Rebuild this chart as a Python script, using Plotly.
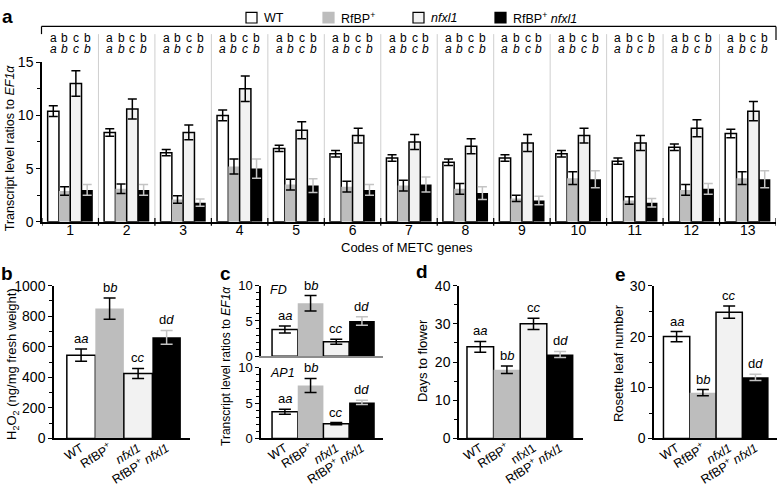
import plotly.graph_objects as go

W, H = 778, 491
FONT = "Liberation Sans, Arial, sans-serif"

# ---------------- data ----------------
genotypes = ["WT", "RfBP+", "nfxl1", "RfBP+ nfxl1"]
genotype_ticks = ["WT", "RfBP<sup>+</sup>", "<i>nfxl1</i>", "RfBP<sup>+</sup> <i>nfxl1</i>"]
genotype_ticks_d = ["WT", "RfBP<sup>+</sup>", "nfxl1", "RfBP<sup>+</sup> <i>nfxl1</i>"]
legend_labels = ["WT", "RfBP<sup>+</sup>", "<i>nfxl1</i>", "RfBP<sup>+</sup> <i>nfxl1</i>"]

# panel a: 13 METC genes
genes = [str(i) for i in range(1, 14)]
a_wt = [10.4, 8.4, 6.5, 10.0, 6.9, 6.4, 6.0, 5.6, 6.0, 6.4, 5.7, 7.0, 8.3]
a_wt_err = [0.5, 0.35, 0.3, 0.5, 0.3, 0.3, 0.3, 0.3, 0.3, 0.3, 0.3, 0.3, 0.4]
a_rfbp = [2.9, 3.1, 2.1, 5.2, 3.5, 3.3, 3.4, 3.1, 2.2, 4.1, 2.0, 3.0, 4.1]
a_rfbp_err = [0.4, 0.45, 0.35, 0.7, 0.5, 0.5, 0.5, 0.5, 0.3, 0.6, 0.35, 0.5, 0.6]
a_nfxl1 = [13.0, 10.6, 8.4, 12.5, 8.6, 8.1, 7.5, 7.1, 7.4, 8.1, 7.4, 8.8, 10.4]
a_nfxl1_err = [1.2, 0.95, 0.7, 1.2, 0.8, 0.7, 0.7, 0.7, 0.8, 0.7, 0.7, 0.8, 0.9]
a_double = [3.0, 3.0, 1.8, 5.0, 3.4, 3.0, 3.5, 2.7, 2.0, 4.0, 1.8, 3.1, 4.0]
a_double_err = [0.5, 0.5, 0.35, 0.9, 0.65, 0.5, 0.7, 0.6, 0.4, 0.8, 0.4, 0.5, 0.8]
a_letters = ["a", "b", "c", "b"]

# panel b: H2O2
b_vals = [545, 850, 425, 662]
b_err = [40, 70, 33, 45]
# panel c: FD and AP1
c_fd_vals = [3.8, 7.5, 2.05, 5.0]
c_fd_err = [0.5, 1.1, 0.35, 0.6]
c_ap1_vals = [3.8, 7.5, 2.1, 5.1]
c_ap1_err = [0.35, 1.0, 0.15, 0.3]
# panel d: days to flower
d_vals = [24, 18, 30, 22]
d_err = [1.4, 1.0, 1.5, 0.8]
# panel e: rosette leaf number
e_vals = [20, 9, 24.8, 12]
e_err = [1.0, 0.6, 1.2, 0.6]
sig_letters = ["a<i>a</i>", "b<i>b</i>", "c<i>c</i>", "d<i>d</i>"]

# ---------------- style ----------------
fill_colors = ["#ffffff", "#bdbdbd", "#f2f2f2", "#000000"]
line_colors = ["#000000", "#bdbdbd", "#000000", "#000000"]
line_widths = [1.5, 0, 1.5, 0]
err_colors = ["#000000", "#000000", "#000000", "#c4c4c4"]


def xp(px):
    return px / W


def yp(py):
    return 1 - py / H


fig = go.Figure()

# ---------------- panel a ----------------
a_series = [(a_wt, a_wt_err), (a_rfbp, a_rfbp_err), (a_nfxl1, a_nfxl1_err), (a_double, a_double_err)]
for i, (vals, errs) in enumerate(a_series):
    fig.add_trace(go.Bar(
        x=genes, y=vals, name=genotypes[i], xaxis="x", yaxis="y",
        marker=dict(color=fill_colors[i], line=dict(color=line_colors[i], width=line_widths[i])),
        error_y=dict(type="data", array=errs, color=err_colors[i], thickness=1.5, width=4.5),
        showlegend=False,
    ))


# panels b-e
def add_panel(vals, errs, xa, ya):
    for i in range(4):
        fig.add_trace(go.Bar(
            x=[genotypes[i]], y=[vals[i]], xaxis=xa, yaxis=ya, width=1, offset=-0.5,
            marker=dict(color=fill_colors[i], line=dict(color=line_colors[i], width=line_widths[i])),
            error_y=dict(type="data", array=[errs[i]], color=err_colors[i], thickness=1.5, width=6),
            showlegend=False,
        ))


add_panel(b_vals, b_err, "x2", "y2")
add_panel(c_fd_vals, c_fd_err, "x3", "y3")
add_panel(c_ap1_vals, c_ap1_err, "x4", "y4")
add_panel(d_vals, d_err, "x5", "y5")
add_panel(e_vals, e_err, "x6", "y6")

axis_common = dict(showgrid=False, zeroline=False, showline=True, linecolor="black", linewidth=1.5,
                   tickfont=dict(size=14, color="black", family=FONT))


def yax(domain_px, rng, dtick, minor_dtick, anchor, fsize=14):
    return dict(axis_common, domain=[yp(domain_px[0]), yp(domain_px[1])], range=rng, anchor=anchor,
                tickmode="linear", tick0=0, dtick=dtick, ticks="outside", ticklen=4, tickwidth=1,
                tickcolor="black", tickfont=dict(size=fsize, color="black", family=FONT),
                minor=dict(dtick=minor_dtick, ticks="outside", ticklen=3, tickwidth=1, tickcolor="black"))


def xax_cat(domain_px, rng, anchor, ticktext, show_labels=True, linecolor="black"):
    return dict(axis_common, domain=[xp(domain_px[0]), xp(domain_px[1])], range=rng, anchor=anchor,
                type="category", categoryorder="array", categoryarray=genotypes,
                tickvals=genotypes, ticktext=ticktext, tickangle=-32, ticks="",
                showticklabels=show_labels, linecolor=linecolor, ticklabelstandoff=-4,
                tickfont=dict(size=12.5, color="black", family=FONT))


layout = dict(
    width=W, height=H, margin=dict(l=0, r=0, t=0, b=0),
    paper_bgcolor="white", plot_bgcolor="rgba(0,0,0,0)",
    barmode="group", bargap=0.2, bargroupgap=0,
    font=dict(family=FONT, color="black", size=13),
    showlegend=False,
    xaxis=dict(axis_common, domain=[xp(42), xp(776)], anchor="y", type="category",
               range=[-0.5, 12.5], ticks="", ticklabelstandoff=-5,
               tickfont=dict(size=14, color="black", family=FONT)),
    yaxis=yax((221, 56), [0, 15], 5, 2.5, "x"),
    xaxis2=xax_cat((54, 190), [-0.95, 3.82], "y2", genotype_ticks),
    yaxis2=yax((445, 287), [0, 1000], 200, 100, "x2"),
    xaxis3=xax_cat((261, 383), [-0.93, 3.82], "y3", genotype_ticks, show_labels=False, linecolor="#8c8c8c"),
    yaxis3=yax((360, 287), [0, 10], 5, 1, "x3", fsize=13),
    xaxis4=xax_cat((261, 383), [-0.93, 3.82], "y4", genotype_ticks),
    yaxis4=yax((445, 372), [0, 10], 5, 1, "x4", fsize=13),
    xaxis5=xax_cat((459, 583), [-0.8, 3.86], "y5", genotype_ticks_d),
    yaxis5=yax((445, 287), [0, 40], 10, 5, "x5"),
    xaxis6=xax_cat((654, 777), [-0.86, 3.82], "y6", genotype_ticks),
    yaxis6=yax((445, 287), [0, 30], 10, 5, "x6"),
)
fig.update_layout(layout)

shapes = []
annotations = []

# panel a: separators, crossing ticks, bracket
for k in range(len(genes) + 1):
    xb = k - 0.5
    if 0 < k < len(genes):
        shapes.append(dict(type="line", xref="x", yref="paper", x0=xb, x1=xb, y0=yp(221), y1=yp(27),
                           line=dict(color="#cfcfcf", width=1)))
    shapes.append(dict(type="line", xref="x", yref="paper", x0=xb, x1=xb, y0=yp(217), y1=yp(225),
                       line=dict(color="black", width=1.2)))
shapes.append(dict(type="line", xref="paper", yref="paper", x0=xp(41.5), x1=xp(776), y0=yp(19), y1=yp(19),
                   line=dict(color="black", width=1.2)))
shapes.append(dict(type="line", xref="paper", yref="paper", x0=xp(41.5), x1=xp(41.5), y0=yp(19), y1=yp(27),
                   line=dict(color="black", width=1.2)))
shapes.append(dict(type="line", xref="paper", yref="paper", x0=xp(776), x1=xp(776), y0=yp(19), y1=yp(33),
                   line=dict(color="black", width=1.2)))

# letters over each bar in panel a (x given as category index)
group_px = (776 - 42) / len(genes)
bar_px = group_px * (1 - 0.2) / 4
for j, g in enumerate(genes):
    for i, let in enumerate(a_letters):
        for py, txt in [(31, let), (42, "<i>%s</i>" % let)]:
            annotations.append(dict(xref="x", yref="paper", x=j, y=yp(py), xshift=(i - 1.5) * bar_px,
                                    text=txt, showarrow=False, font=dict(size=12),
                                    xanchor="center", yanchor="middle"))

# legend (drawn manually)
leg_x = [246, 323, 413, 495]
for i, lx in enumerate(leg_x):
    shapes.append(dict(type="rect", xref="paper", yref="paper", x0=xp(lx), x1=xp(lx + 11),
                       y0=yp(15.5), y1=yp(4.5), fillcolor=fill_colors[i],
                       line=dict(color=line_colors[i] if line_widths[i] else fill_colors[i], width=1.2)))
    annotations.append(dict(xref="paper", yref="paper", x=xp(lx + 16), y=yp(10), text=legend_labels[i],
                            showarrow=False, xanchor="left", yanchor="middle", font=dict(size=12.5)))

# significance letters on panels b-e
for vals, errs, xa, ya in [(b_vals, b_err, "x2", "y2"), (c_fd_vals, c_fd_err, "x3", "y3"),
                           (c_ap1_vals, c_ap1_err, "x4", "y4"), (d_vals, d_err, "x5", "y5"),
                           (e_vals, e_err, "x6", "y6")]:
    for i in range(4):
        annotations.append(dict(xref=xa, yref=ya, x=i, y=vals[i] + errs[i], text=sig_letters[i],
                                showarrow=False, xanchor="center", yanchor="bottom", yshift=1,
                                font=dict(size=13)))

# gene names in panel c
annotations.append(dict(xref="paper", yref="paper", x=xp(268), y=yp(292), text="<i>FD</i>", showarrow=False,
                        xanchor="left", yanchor="middle", font=dict(size=12.5)))
annotations.append(dict(xref="paper", yref="paper", x=xp(268), y=yp(377), text="<i>AP1</i>", showarrow=False,
                        xanchor="left", yanchor="middle", font=dict(size=12.5)))

# axis titles
titles = [
    (10, 145, "Transcript level ratios to <i>EF1α</i>", 12.5),
    (12, 368, "H<sub>2</sub>O<sub>2</sub> (ng/mg fresh weight)", 13),
    (226, 370, "Transcript level ratios to <i>EF1α</i>", 12),
    (422, 365, "Days to flower", 13),
    (618, 367, "Rosette leaf number", 13),
]
for x, y, t, s in titles:
    annotations.append(dict(xref="paper", yref="paper", x=xp(x), y=yp(y), text=t, textangle=-90,
                            showarrow=False, xanchor="center", yanchor="middle", font=dict(size=s)))
annotations.append(dict(xref="paper", yref="paper", x=xp(407), y=yp(248), text="Codes of METC genes",
                        showarrow=False, xanchor="center", yanchor="middle", font=dict(size=13)))

# panel letters
for x, y, t in [(8, 9, "a"), (7, 274, "b"), (225, 274, "c"), (422, 272, "d"), (620, 275, "e")]:
    annotations.append(dict(xref="paper", yref="paper", x=xp(x), y=yp(y), text="<b>%s</b>" % t,
                            showarrow=False, xanchor="center", yanchor="middle", font=dict(size=19)))

fig.update_layout(shapes=shapes, annotations=annotations)
fig.write_html("out.html", config={"displayModeBar": False},
               post_script="document.body.style.margin='0px';")
